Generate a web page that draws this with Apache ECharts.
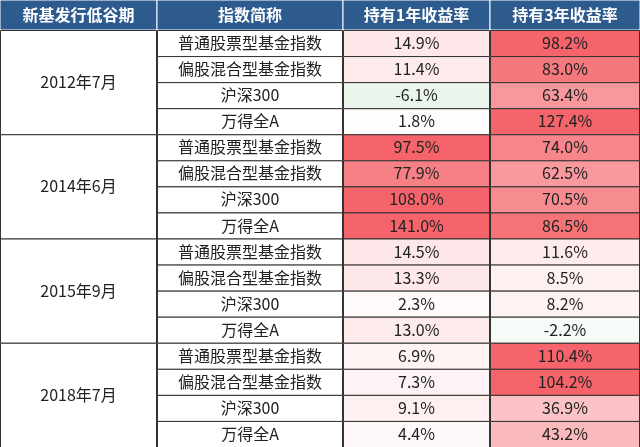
<!DOCTYPE html><html><head><meta charset="utf-8"><script src="https://cdn.jsdelivr.net/npm/echarts@6/dist/echarts.min.js"></script>
<style>html,body{margin:0;padding:0}#c{width:640px;height:447px}</style></head><body><div id="c"></div><script>
const headers=['新基发行低谷期','指数简称','持有1年收益率','持有3年收益率'];
const periods=['2012年7月','2014年6月','2015年9月','2018年7月'];
const indices=['普通股票型基金指数','偏股混合型基金指数','沪深300','万得全A'];
const ret1=[14.9,11.4,-6.1,1.8, 97.5,77.9,108.0,141.0, 14.5,13.3,2.3,13.0, 6.9,7.3,9.1,4.4];
const ret3=[98.2,83.0,63.4,127.4, 74.0,62.5,70.5,86.5, 11.6,8.5,8.2,-2.2, 110.4,104.2,36.9,43.2];
const FONT='"Noto Sans CJK SC"';
const colL=[0,157,343,490], colW=[157,186,147,150];
const rows=[];for(let i=0;i<16;i++)rows.push(String(i));
function mix(a,b,t){const p=s=>[1,3,5].map(i=>parseInt(s.substr(i,2),16));const A=p(a),B=p(b);return 'rgb('+A.map((x,i)=>Math.round(x+(B[i]-x)*t)).join(',')+')';}
function heat(v,max){if(v<0)return mix('#ffffff','#dceee0',Math.min(1,-v/10));return mix('#ffffff','#f4646a',Math.min(1,v/max));}
const grids=[],xAxes=[],yAxes=[],series=[];
for(let c=0;c<4;c++){
 grids.push({left:colL[c],width:colW[c],top:0,height:30});
 grids.push({left:colL[c],width:colW[c],top:30,height:417});
 xAxes.push({gridIndex:2*c,type:'value',min:0,max:1,show:false});
 xAxes.push({gridIndex:2*c+1,type:'value',min:0,max:1,show:false});
 yAxes.push({gridIndex:2*c,type:'category',data:['h'],show:false});
 yAxes.push({gridIndex:2*c+1,type:'category',data:rows,inverse:true,show:false});
 series.push({type:'custom',xAxisIndex:2*c,yAxisIndex:2*c,data:[[0,0,headers[c]]],
  renderItem:(p,api)=>{const cs=p.coordSys;return {type:'group',children:[
   {type:'rect',shape:{x:cs.x,y:cs.y,width:cs.width,height:cs.height},style:{fill:'#2d5b8e',stroke:'#ffffff',lineWidth:1}},
   {type:'text',style:{x:cs.x+cs.width/2,y:cs.y+cs.height/2,text:api.value(2),fill:'#fff',font:'bold 16px '+FONT,align:'center',verticalAlign:'middle'}}]};}});
 let data;
 if(c===0)data=periods.map((p,i)=>[0,i*4,p]);
 else if(c===1)data=rows.map((r,i)=>[0,i,indices[i%4]]);
 else {const arr=c===2?ret1:ret3;data=arr.map((v,i)=>[0,i,v]);}
 const max=95;
 series.push({type:'custom',xAxisIndex:2*c+1,yAxisIndex:2*c+1,data,
  renderItem:(p,api)=>{const cs=p.coordSys;const h=api.size([0,1])[1];const span=c===0?4:1;
   const yc=api.coord([0,api.value(1)])[1];const y0=yc-h/2;const H=h*span;
   let txt=api.value(2),fill='#ffffff';
   if(c>=2){const v=+api.value(2);fill=heat(v,max);txt=v.toFixed(1)+'%';}
   return {type:'group',children:[
    {type:'rect',shape:{x:cs.x+0.5,y:y0+0.5,width:cs.width-1,height:H},style:{fill,stroke:'#333',lineWidth:1}},
    {type:'text',style:{x:cs.x+cs.width/2,y:y0+H/2,text:String(txt),fill:'#222',font:'16px '+FONT,align:'center',verticalAlign:'middle'}}]};}});
}
const ch=echarts.init(document.getElementById('c'));
ch.setOption({animation:false,backgroundColor:'#fff',grid:grids,xAxis:xAxes,yAxis:yAxes,series});
</script></body></html>
